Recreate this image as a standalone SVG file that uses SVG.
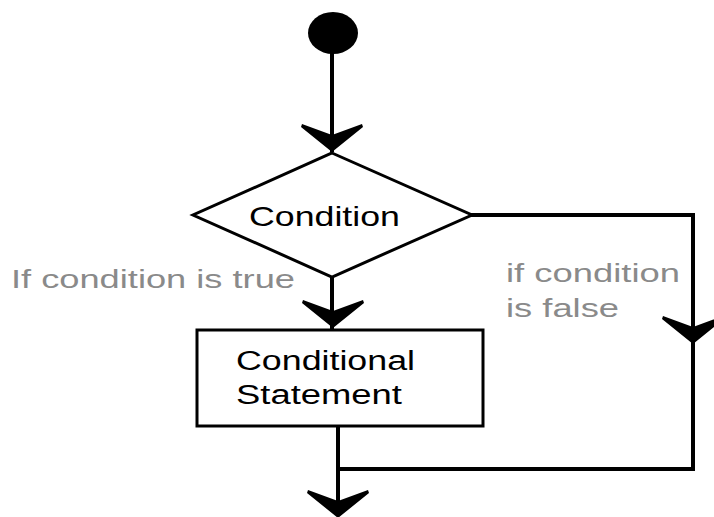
<svg xmlns="http://www.w3.org/2000/svg" xmlns:xlink="http://www.w3.org/1999/xlink" width="714" height="517" viewBox="0 0 714 517">
<style>
.ln{fill:none;stroke:#000;stroke-width:4;stroke-linecap:square}
.shape{fill:#fff;stroke:#000;stroke-width:3}
.t{font-family:"Liberation Sans",Arial,sans-serif;fill:#000}
.g{font-family:"Liberation Sans",Arial,sans-serif;fill:#8a8a8a}
</style>
<defs>
<path id="ah" d="M0,0 L-31,-25 L-30,-28 L0,-17 L30,-28 L31,-25 Z" fill="#000"/>
</defs>
<rect width="714" height="517" fill="#fff"/>
<g id="connectors">
<path class="ln" d="M332,50 V150"/>
<path class="ln" d="M332,278 V328"/>
<path class="ln" d="M472,215 H693 V469 H338"/>
<path class="ln" d="M338,427 V514"/>
<use xlink:href="#ah" x="332" y="152"/>
<use xlink:href="#ah" x="333" y="328"/>
<use xlink:href="#ah" x="693" y="344"/>
<use xlink:href="#ah" x="338" y="518"/>
</g>
<g id="start">
<ellipse cx="333" cy="33" rx="25" ry="21" fill="#000"/>
</g>
<g id="condition">
<polygon class="shape" points="332,153 472,215 332,277 193,215"/>
<text class="t" x="249" y="226" font-size="28" textLength="151" lengthAdjust="spacingAndGlyphs">Condition</text>
</g>
<g id="statement">
<rect class="shape" x="197" y="330" width="286" height="96"/>
<text class="t" x="236" y="370" font-size="27" textLength="179" lengthAdjust="spacingAndGlyphs">Conditional</text>
<text class="t" x="236" y="404" font-size="27" textLength="166" lengthAdjust="spacingAndGlyphs">Statement</text>
</g>
<g id="labels">
<text class="g" x="11" y="288" font-size="26" textLength="284" lengthAdjust="spacingAndGlyphs">If condition is true</text>
<text class="g" x="506" y="282" font-size="26" textLength="174" lengthAdjust="spacingAndGlyphs">if condition</text>
<text class="g" x="506" y="317" font-size="26" textLength="113" lengthAdjust="spacingAndGlyphs">is false</text>
</g>
</svg>
